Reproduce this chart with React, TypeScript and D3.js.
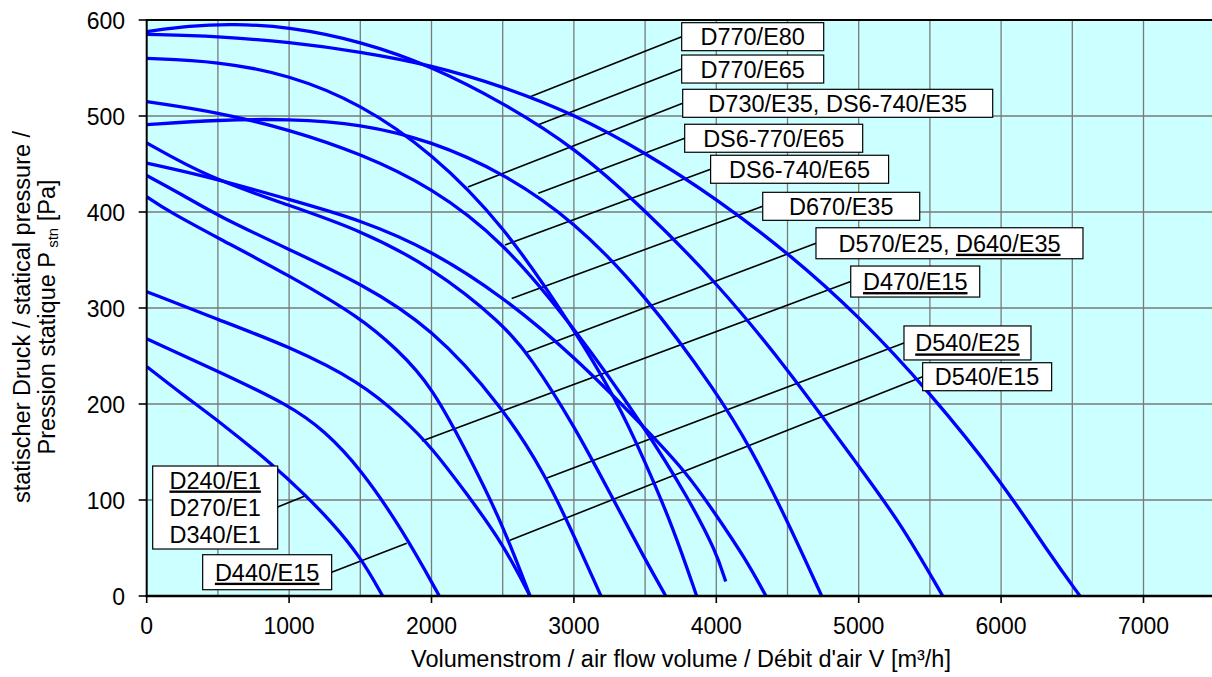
import React from 'react';
import * as d3 from 'd3';

const W = 1212;
const H = 677;

// ---- axis ticks ----
const xTickValues = [0, 1000, 2000, 3000, 4000, 5000, 6000, 7000];
const yTickValues = [0, 100, 200, 300, 400, 500, 600];
const xGridValues = [500, 1000, 1500, 2000, 2500, 3000, 3500, 4000, 4500, 5000, 5500, 6000, 6500, 7000];
const yGridValues = [100, 200, 300, 400, 500];

// ---- curves: [airflow m3/h, static pressure Pa] ----
const curveD770E80: [number, number][] = [[0, 585], [500, 583], [1000, 577], [1500, 567], [2000, 553], [2500, 531], [3000, 502], [3500, 462], [4000, 414], [4500, 358], [5000, 292], [5500, 212], [6000, 120], [6343, 43], [6554, 0]];
const curveD770E65: [number, number][] = [[0, 588], [300, 594], [600, 596], [1000, 593], [1500, 578], [2000, 552], [2500, 514], [3000, 468], [3500, 402], [4000, 327], [4500, 237], [5000, 135], [5290, 77], [5590, 0]];
const curveD730E35: [number, number][] = [[0, 560], [500, 557], [1000, 543], [1500, 513], [2000, 462], [2500, 388], [3000, 278], [3300, 204], [3500, 140], [3700, 70], [3862, 0]];
const curveDS6740E65: [number, number][] = [[0, 515], [500, 504], [1000, 486], [1500, 461], [2000, 426], [2500, 370], [3000, 280], [3500, 175], [3800, 103], [4000, 46], [4066, 15]];
const curveDS6770E65: [number, number][] = [[0, 491], [500, 496], [1000, 497], [1500, 492], [2000, 474], [2500, 441], [3000, 391], [3500, 314], [4000, 213], [4250, 152], [4500, 78], [4740, 0]];
const curveD640E35: [number, number][] = [[0, 472], [430, 436], [1000, 407], [1500, 381], [2000, 343], [2500, 284], [2700, 248], [3000, 178], [3250, 108], [3500, 38], [3645, 0]];
const curveD670E35: [number, number][] = [[0, 451], [430, 437], [1000, 413], [1500, 392], [2000, 360], [2500, 312], [3000, 250], [3500, 175], [3800, 127], [4000, 84], [4200, 40], [4349, 0]];
const curveD540E25: [number, number][] = [[0, 438], [250, 418], [500, 396], [1000, 361], [1500, 326], [2000, 280], [2500, 197], [2800, 126], [3000, 63], [3190, 0]];
const curveD540E15: [number, number][] = [[0, 416], [150, 401], [500, 373], [1000, 334], [1500, 290], [1750, 258], [2000, 220], [2300, 135], [2500, 74], [2692, 0]];
const curveD470E15: [number, number][] = [[0, 317], [500, 288], [1000, 260], [1500, 223], [1800, 185], [2000, 155], [2250, 106], [2500, 55], [2692, 0]];
const curveD440E15: [number, number][] = [[0, 268], [500, 234], [1000, 199], [1250, 172], [1500, 133], [1800, 68], [2055, 0]];
const curveD240E1: [number, number][] = [[0, 239], [250, 210], [500, 183], [900, 135], [1100, 107], [1300, 77], [1500, 41], [1657, 0]];

const allCurves = [curveD770E80, curveD770E65, curveD730E35, curveDS6740E65, curveDS6770E65, curveD640E35, curveD670E35, curveD540E25, curveD540E15, curveD470E15, curveD440E15, curveD240E1];

// ---- labels: text parts [text, underlined] ----
type Part = [string, boolean];
const labelTexts: Part[][][] = [
  [[['D770/E80', false]]],
  [[['D770/E65', false]]],
  [[['D730/E35, DS6-740/E35', false]]],
  [[['DS6-770/E65', false]]],
  [[['DS6-740/E65', false]]],
  [[['D670/E35', false]]],
  [[['D570/E25, ', false], ['D640/E35', true]]],
  [[['D470/E15', true]]],
  [[['D540/E25', true]]],
  [[['D540/E15', false]]],
  [[['D240/E1', true]], [['D270/E1', false]], [['D340/E1', false]]],
  [[['D440/E15', true]]],
];
// anchor on curve (data units)
const labelAnchors: [number, number][] = [
  [2693, 520], [2750, 491], [2256, 426], [2750, 419.5], [2516, 365.6], [2563, 310],
  [2670, 254], [1933, 161.5], [2811, 123], [2551, 58], [1124, 105], [1826, 55],
];
// box left/top in data units, width/height in px
const labelBoxes: [number, number, number, number][] = [
  [3757, 597.2, 142, 28], [3757, 563.5, 142, 28], [3764, 527.8, 310, 28], [3778, 491.4, 178, 28],
  [3960, 459.1, 178, 28], [4326, 420.5, 157, 28], [4700, 383.6, 267, 31], [4944, 343.7, 129, 31],
  [5318, 281.3, 127, 34], [5449, 243, 129, 28], [42, 135.4, 125, 83], [393, 43, 129, 35],
];

const x = d3.scaleLinear().domain([0, 7500]).range([146.7, 1214.7]);
const y = d3.scaleLinear().domain([0, 600]).range([596, 20]);

const lineGen = d3.line<[number, number]>()
  .x((d) => x(d[0]))
  .y((d) => y(d[1]))
  .curve(d3.curveBasis);

const FONT = 'Liberation Sans, Arial, Helvetica, sans-serif';

export default function App() {
  const plotLeft = x(0);
  const plotRight = x(7500);
  const plotTop = y(600);
  const plotBottom = y(0);
  return (
    <svg width={W} height={H} style={{ position: 'absolute', left: 0, top: 0, background: '#fff' }} fontFamily={FONT}>
      <defs>
        <clipPath id="plotClip">
          <rect x={plotLeft} y={plotTop - 2} width={plotRight - plotLeft} height={plotBottom - plotTop + 2} />
        </clipPath>
      </defs>
      <rect x={plotLeft} y={plotTop} width={plotRight - plotLeft} height={plotBottom - plotTop} fill="#CCFFFF" />
      {xGridValues.map((v) => (
        <line key={'gx' + v} x1={x(v)} x2={x(v)} y1={plotTop} y2={plotBottom} stroke="#7a7a7a" strokeWidth={1.3} />
      ))}
      {yGridValues.map((v) => (
        <line key={'gy' + v} x1={plotLeft} x2={plotRight} y1={y(v)} y2={y(v)} stroke="#7a7a7a" strokeWidth={1.3} />
      ))}
      {labelAnchors.map((a, i) => {
        const b = labelBoxes[i];
        const bx = x(b[0]);
        const by = y(b[1]);
        const isLeftBox = i >= 10;
        const ex = isLeftBox ? bx + b[2] : bx;
        const ey = by + (i === 10 ? 41 : b[3] / 2);
        return <line key={'ld' + i} x1={ex} y1={ey} x2={x(a[0])} y2={y(a[1])} stroke="#000" strokeWidth={1.6} />;
      })}
      <g clipPath="url(#plotClip)">
        {allCurves.map((c, i) => (
          <path key={'c' + i} d={lineGen(c) || ''} fill="none" stroke="#0000FF" strokeWidth={3.3} strokeLinejoin="round" />
        ))}
      </g>
      {labelBoxes.map((b, i) => {
        const bx = x(b[0]);
        const by = y(b[1]);
        const lines = labelTexts[i];
        const cx = bx + b[2] / 2;
        return (
          <g key={'lb' + i}>
            <rect x={bx} y={by} width={b[2]} height={b[3]} fill="#fff" stroke="#000" strokeWidth={1.2} />
            {lines.map((parts, li) => {
              const baseline = lines.length > 1 ? by + 22.5 + li * 27.3 : by + b[3] / 2 + 8.5;
              return (
                <text key={li} x={cx} y={baseline} textAnchor="middle" fontSize={23.5} fill="#000">
                  {parts.map((p, pi) => (
                    <tspan key={pi} style={p[1] ? { textDecoration: 'underline' } : undefined}>{p[0]}</tspan>
                  ))}
                </text>
              );
            })}
          </g>
        );
      })}
      {/* axes */}
      <line x1={plotLeft} x2={plotRight} y1={plotTop} y2={plotTop} stroke="#000" strokeWidth={2} />
      <line x1={plotLeft} x2={plotLeft} y1={plotTop - 1} y2={plotBottom + 1} stroke="#000" strokeWidth={2} />
      <line x1={plotLeft - 1} x2={plotRight} y1={plotBottom} y2={plotBottom} stroke="#000" strokeWidth={2.4} />
      {yTickValues.map((v) => (
        <g key={'yt' + v}>
          <line x1={plotLeft - 8} x2={plotLeft} y1={y(v)} y2={y(v)} stroke="#000" strokeWidth={1.6} />
          <text x={125} y={y(v) + 8.5} textAnchor="end" fontSize={23} fill="#000">{v}</text>
        </g>
      ))}
      {xTickValues.map((v) => (
        <g key={'xt' + v}>
          <line x1={x(v)} x2={x(v)} y1={plotBottom} y2={plotBottom + 7} stroke="#000" strokeWidth={1.6} />
          <text x={x(v)} y={633.5} textAnchor="middle" fontSize={23} fill="#000">{v}</text>
        </g>
      ))}
      <text x={681} y={667} textAnchor="middle" fontSize={23.5} fill="#000">Volumenstrom / air flow volume / Débit d'air V [m³/h]</text>
      <text transform="translate(30,317) rotate(-90)" textAnchor="middle" fontSize={23.5} fill="#000">statischer Druck / statical pressure /</text>
      <text transform="translate(55,317) rotate(-90)" textAnchor="middle" fontSize={23.5} fill="#000">
        Pression statique P
        <tspan fontSize={15} dy={3}> stn</tspan>
        <tspan dy={-3}> [Pa]</tspan>
      </text>
    </svg>
  );
}
